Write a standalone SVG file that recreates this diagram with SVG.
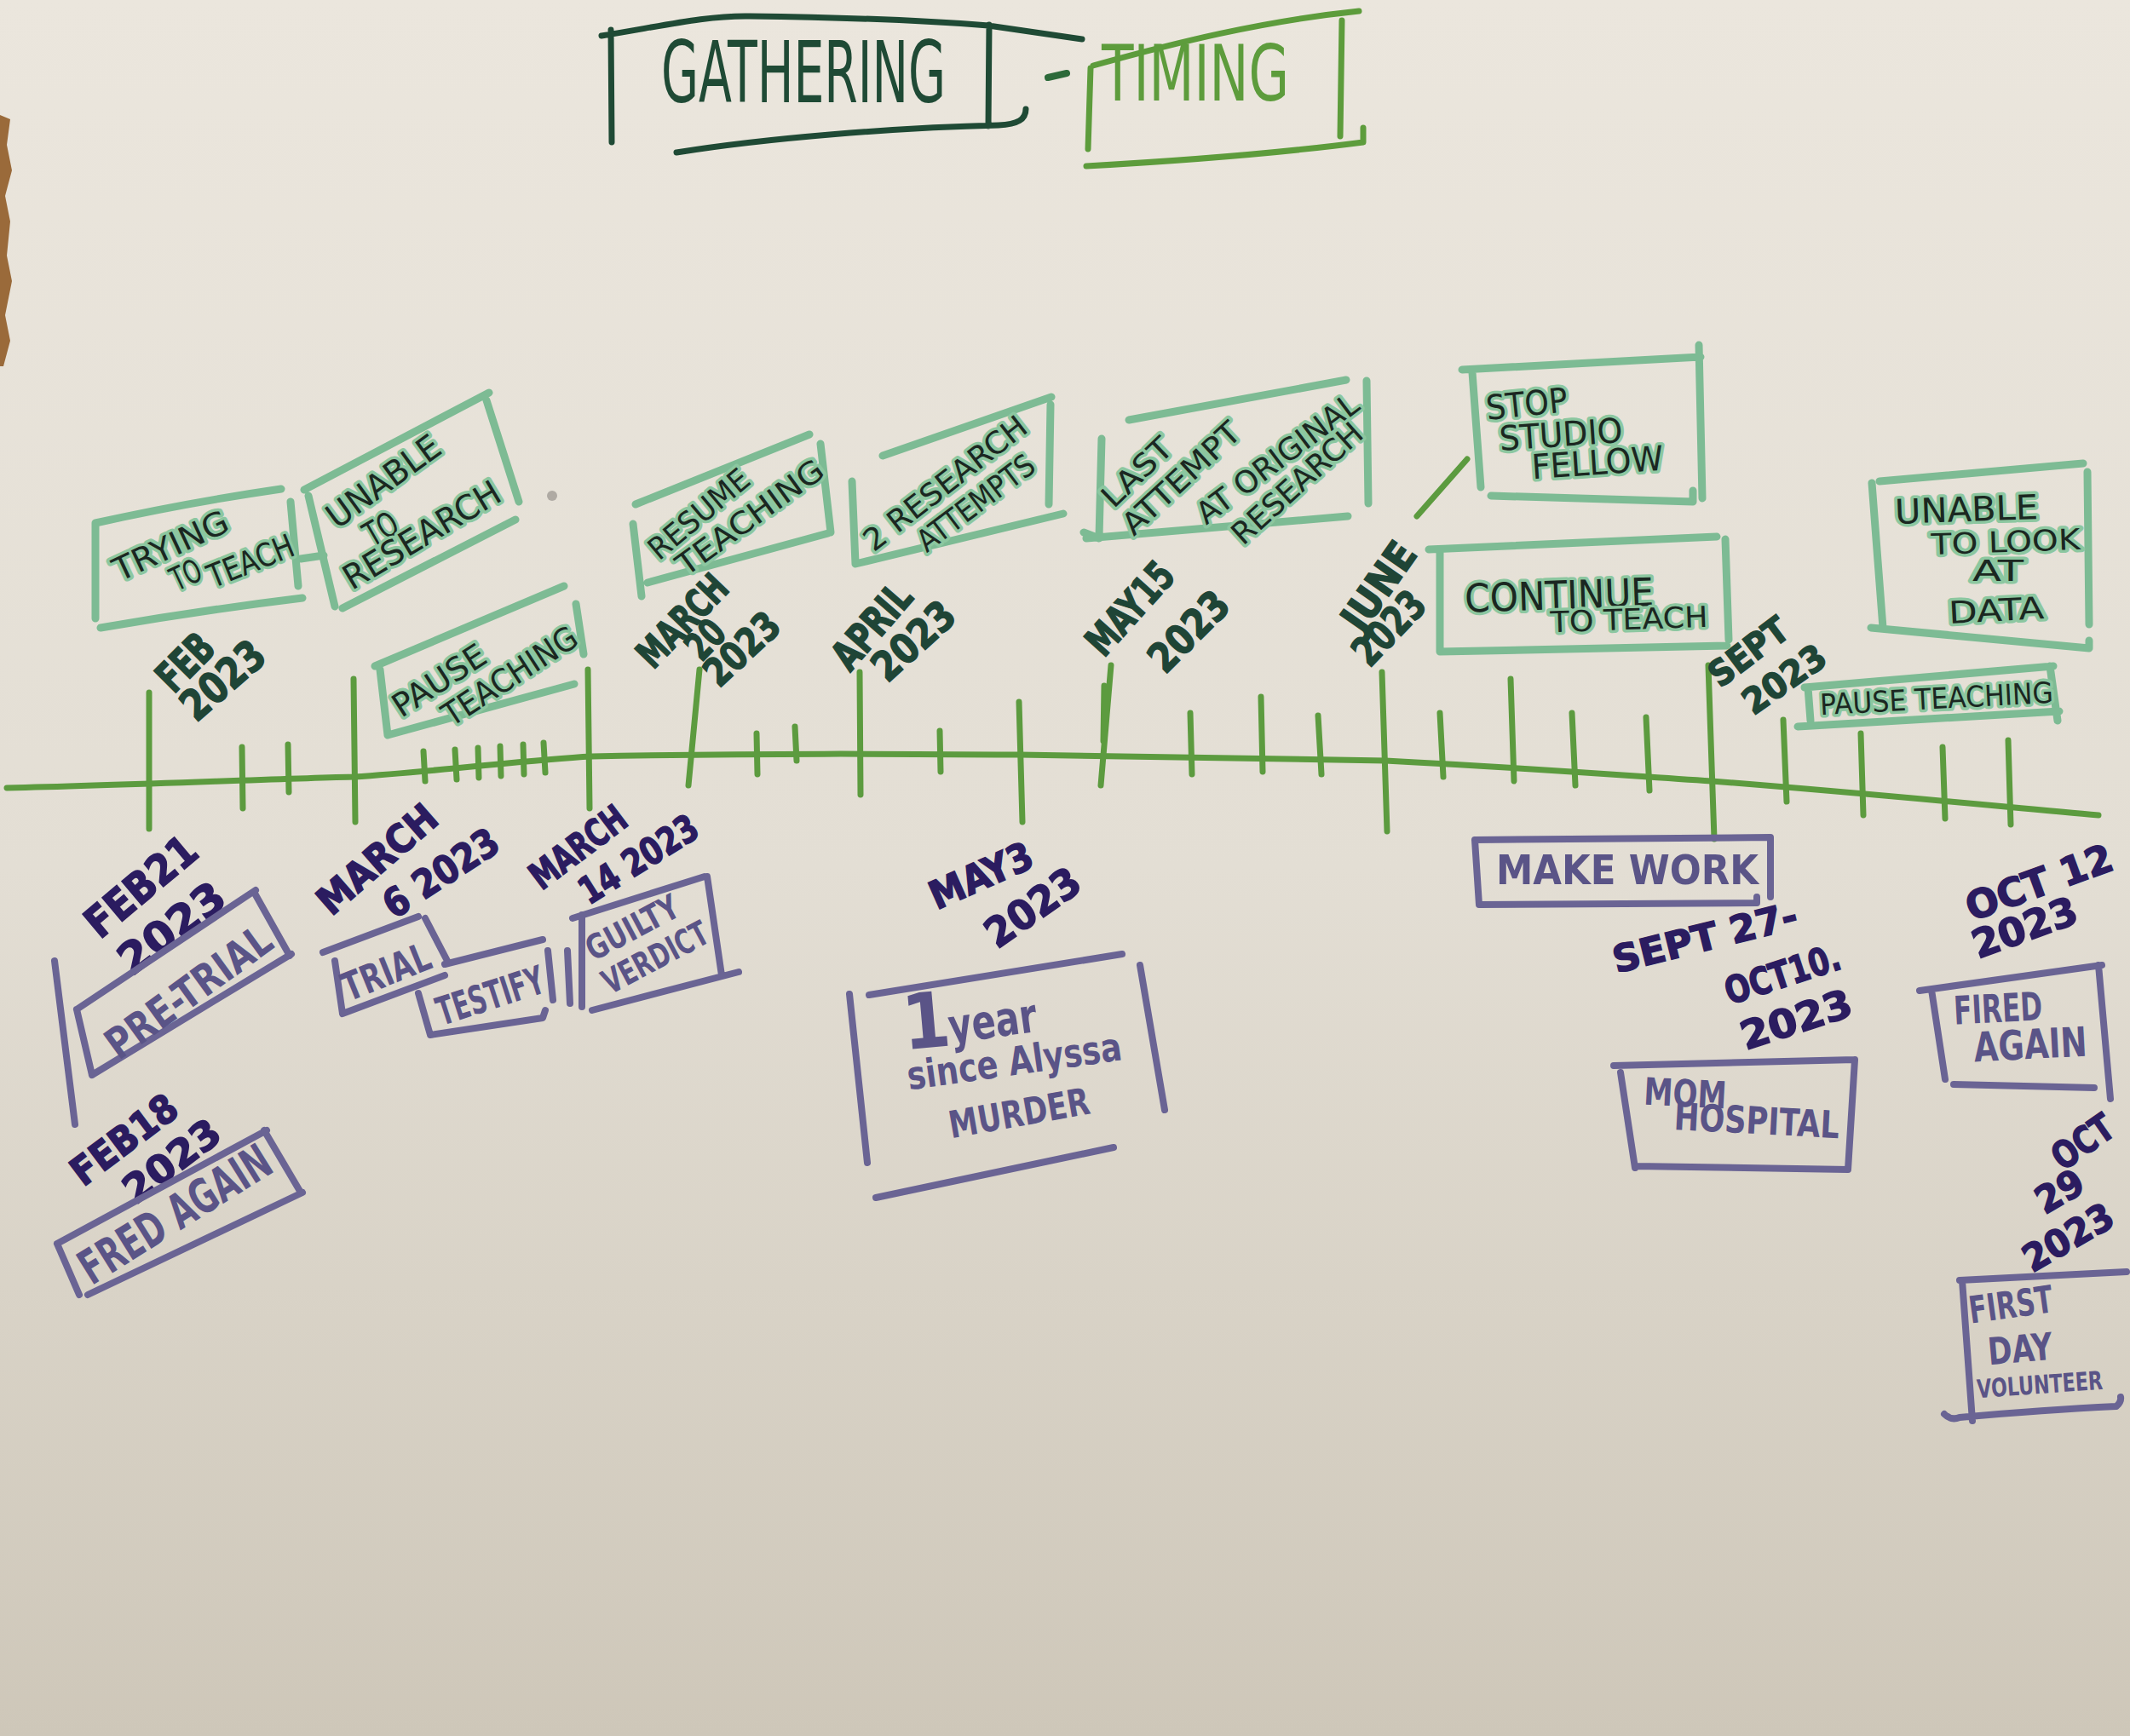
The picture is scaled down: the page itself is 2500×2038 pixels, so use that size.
<svg xmlns="http://www.w3.org/2000/svg" width="2500" height="2038" viewBox="0 0 2500 2038">
<defs>
<linearGradient id="paper" x1="0" y1="0" x2="0" y2="1">
<stop offset="0" stop-color="#ebe6dd"/>
<stop offset="0.5" stop-color="#e3ded4"/>
<stop offset="1" stop-color="#cec7b9"/>
</linearGradient>
<style>
text{font-family:"DejaVu Sans Condensed","DejaVu Sans","Liberation Sans",sans-serif;text-anchor:middle}
.ink{fill:none;stroke-linecap:round;stroke-linejoin:round}
.mint{stroke:#7dbb94;stroke-width:9}
.tl{stroke:#5c9b3f;stroke-width:7}
.pb{stroke:#6a6494;stroke-width:8}
.gd{fill:#1f4536;font-weight:bold;stroke:#1f4536;stroke-width:1.5}
.pd{fill:#2b1c60;font-weight:bold;stroke:#2b1c60;stroke-width:1.5}
.mt{fill:#1b2721;stroke:#8cc7a0;stroke-width:7;paint-order:stroke;stroke-linejoin:round}
.bt{fill:#5a5487;font-weight:bold}
</style>
</defs>
<rect width="2500" height="2038" fill="url(#paper)"/>
<polygon points="0,135 12,140 8,170 14,200 6,230 12,260 8,300 14,330 6,370 12,400 4,430 0,430" fill="#9a6a3a"/>
<circle cx="648" cy="582" r="6" fill="#8a8580" opacity="0.6"/>

<g id="title-gathering">
<path class="ink" stroke="#1f4a35" stroke-width="7" d="M706 42 C780 30 830 18 880 19 C960 20 1060 22 1160 30 L1270 46 M717 35 L718 167 M1161 29 L1160 148 M794 179 C900 162 1050 150 1172 147 C1195 146 1204 140 1204 128"/>
<text x="943" y="120" font-size="100" fill="#1f4a35" textLength="334" lengthAdjust="spacingAndGlyphs">GATHERING</text>
<path class="ink" stroke="#2d6a3a" stroke-width="8" d="M1230 91 L1252 86"/>
</g>
<g id="title-timing">
<path class="ink" stroke="#5d9c3c" stroke-width="7" d="M1283 77 C1380 50 1480 25 1595 13 M1280 80 L1277 175 M1575 24 L1573 160 M1275 195 C1400 188 1500 180 1600 167 L1600 150"/>
<text x="1403" y="118" font-size="90" fill="#5d9c3c" textLength="220" lengthAdjust="spacingAndGlyphs">TIMING</text>
</g>

<g id="connectors">
<path class="ink tl" d="M8 925 C150 922 300 915 415 912 C520 905 620 892 694 888 C900 884 1050 885 1196 886 C1400 888 1520 890 1626 893 C1800 902 1900 910 2009 917 C2200 932 2350 947 2463 957"/>
<path class="ink tl" d="M175 813 L175 973 M284 877 L285 949 M338 874 L339 930 M415 797 L417 965 M497 882 L499 917 M534 880 L536 915 M561 878 L562 913 M587 876 L588 911 M614 874 L615 909 M638 872 L640 907 M690 786 L692 949 M821 786 L808 922 M888 861 L889 909 M933 853 L935 893 M1009 789 L1010 933 M1103 858 L1104 906 M1196 824 L1200 965 M1304 781 L1292 922 M1296 805 L1295 870 M1397 837 L1399 909 M1480 818 L1482 906 M1547 840 L1551 909 M1622 789 L1628 976 M1690 837 L1694 912 M1773 797 L1777 917 M1845 837 L1849 922 M1932 842 L1936 928 M2005 781 L2012 985 M2093 845 L2097 941 M2184 861 L2187 957 M2280 877 L2283 961 M2357 869 L2360 968"/>
<path class="ink mint" d="M353 656 L380 652"/>
<path class="ink tl" d="M1663 606 L1722 539"/>
<path class="ink pb" d="M64 1128 L88 1320"/>
</g>

<g id="date-feb2023">
<text class="gd" x="217" y="795" font-size="50" transform="rotate(-45 217 777)" textLength="73" lengthAdjust="spacingAndGlyphs">FEB</text>
<text class="gd" x="261" y="816" font-size="50" transform="rotate(-41 261 798)" textLength="113" lengthAdjust="spacingAndGlyphs">2023</text>
</g>
<g id="date-march20">
<text class="gd" x="800" y="745" font-size="46" transform="rotate(-46 800 728)" textLength="131" lengthAdjust="spacingAndGlyphs">MARCH</text>
<text class="gd" x="827" y="767" font-size="46" transform="rotate(-46 827 750)" textLength="45" lengthAdjust="spacingAndGlyphs">20</text>
<text class="gd" x="870" y="778" font-size="46" transform="rotate(-43 870 761)" textLength="103" lengthAdjust="spacingAndGlyphs">2023</text>
</g>
<g id="date-april1">
<text class="gd" x="1023" y="752" font-size="48" transform="rotate(-49 1023 735)" textLength="116" lengthAdjust="spacingAndGlyphs">APRIL</text>
<text class="gd" x="1072" y="769" font-size="48" transform="rotate(-42 1072 752)" textLength="113" lengthAdjust="spacingAndGlyphs">2023</text>
</g>
<g id="date-may15">
<text class="gd" x="1326" y="731" font-size="48" transform="rotate(-48 1326 714)" textLength="128" lengthAdjust="spacingAndGlyphs">MAY15</text>
<text class="gd" x="1395" y="758" font-size="48" transform="rotate(-45 1395 741)" textLength="112" lengthAdjust="spacingAndGlyphs">2023</text>
</g>
<g id="date-june">
<text class="gd" x="1618" y="705" font-size="48" transform="rotate(-55 1618 688)" textLength="115" lengthAdjust="spacingAndGlyphs">JUNE</text>
<text class="gd" x="1630" y="754" font-size="48" transform="rotate(-46 1630 737)" textLength="100" lengthAdjust="spacingAndGlyphs">2023</text>
</g>
<g id="date-sept">
<text class="gd" x="2052" y="780" font-size="42" transform="rotate(-37 2052 765)" textLength="105" lengthAdjust="spacingAndGlyphs">SEPT</text>
<text class="gd" x="2094" y="812" font-size="42" transform="rotate(-35 2094 797)" textLength="109" lengthAdjust="spacingAndGlyphs">2023</text>
</g>

<g id="trying-to-teach">
<path class="ink mint" d="M112 614 L112 726 M112 614 Q220 590 330 574 M341 589 L350 688 M118 737 Q240 716 355 702"/>
<text class="mt" x="200" y="654" font-size="38" transform="rotate(-25 200 640)" textLength="145" lengthAdjust="spacingAndGlyphs">TRYING</text>
<text class="mt" x="218" y="688" font-size="38" transform="rotate(-25 218 674)" textLength="36" lengthAdjust="spacingAndGlyphs">TO</text>
<text class="mt" x="294" y="672" font-size="38" transform="rotate(-22 294 658)" textLength="106" lengthAdjust="spacingAndGlyphs">TEACH</text>
</g>
<g id="unable-to-research">
<path class="ink mint" d="M357 575 L574 461 M362 582 L393 712 M402 714 L605 610 M571 470 L609 589"/>
<text class="mt" x="450" y="579" font-size="40" transform="rotate(-36 450 565)" textLength="155" lengthAdjust="spacingAndGlyphs">UNABLE</text>
<text class="mt" x="447" y="635" font-size="40" transform="rotate(-30 447 621)" textLength="40" lengthAdjust="spacingAndGlyphs">TO</text>
<text class="mt" x="495" y="642" font-size="40" transform="rotate(-31 495 628)" textLength="208" lengthAdjust="spacingAndGlyphs">RESEARCH</text>
</g>
<g id="pause-teaching-1">
<path class="ink mint" d="M440 782 L662 688 M446 786 L455 863 M455 863 L674 803 M676 709 L685 768"/>
<text class="mt" x="515" y="812" font-size="38" transform="rotate(-33 515 798)" textLength="123" lengthAdjust="spacingAndGlyphs">PAUSE</text>
<text class="mt" x="598" y="807" font-size="38" transform="rotate(-33 598 793)" textLength="181" lengthAdjust="spacingAndGlyphs">TEACHING</text>
</g>
<g id="resume-teaching">
<path class="ink mint" d="M746 592 L950 510 M743 615 L753 700 M760 684 L972 626 M963 521 L975 625"/>
<text class="mt" x="820" y="616" font-size="36" transform="rotate(-40 820 603)" textLength="143" lengthAdjust="spacingAndGlyphs">RESUME</text>
<text class="mt" x="880" y="620" font-size="36" transform="rotate(-36 880 607)" textLength="204" lengthAdjust="spacingAndGlyphs">TEACHING</text>
</g>
<g id="research-attempts">
<path class="ink mint" d="M1036 535 L1234 466 M1000 565 L1004 662 M1004 662 L1248 603 M1233 475 L1231 592"/>
<text class="mt" x="1109" y="580" font-size="36" transform="rotate(-38 1109 567)" textLength="232" lengthAdjust="spacingAndGlyphs">2 RESEARCH</text>
<text class="mt" x="1145" y="603" font-size="36" transform="rotate(-37 1145 590)" textLength="163" lengthAdjust="spacingAndGlyphs">ATTEMPTS</text>
</g>
<g id="last-attempt">
<path class="ink mint" d="M1325 493 L1580 446 M1293 515 L1290 630 M1272 625 L1290 632 M1275 632 L1582 606 M1604 447 L1606 591"/>
<text class="mt" x="1334" y="567" font-size="36" transform="rotate(-44 1334 554)" textLength="100" lengthAdjust="spacingAndGlyphs">LAST</text>
<text class="mt" x="1386" y="574" font-size="36" transform="rotate(-43 1386 561)" textLength="175" lengthAdjust="spacingAndGlyphs">ATTEMPT</text>
<text class="mt" x="1499" y="551" font-size="36" transform="rotate(-37 1499 538)" textLength="228" lengthAdjust="spacingAndGlyphs">AT ORIGINAL</text>
<text class="mt" x="1522" y="580" font-size="36" transform="rotate(-42 1522 567)" textLength="193" lengthAdjust="spacingAndGlyphs">RESEARCH</text>
</g>
<g id="stop-studio-fellow">
<path class="ink mint" d="M1716 434 L1996 419 M1728 437 L1738 572 M1750 582 L1987 589 L1987 576 M1994 405 L1998 585"/>
<text class="mt" x="1792" y="488" font-size="40" transform="rotate(-6 1792 474)" textLength="96" lengthAdjust="spacingAndGlyphs">STOP</text>
<text class="mt" x="1832" y="524" font-size="40" transform="rotate(-4 1832 510)" textLength="145" lengthAdjust="spacingAndGlyphs">STUDIO</text>
<text class="mt" x="1875" y="557" font-size="40" transform="rotate(-4 1875 543)" textLength="155" lengthAdjust="spacingAndGlyphs">FELLOW</text>
</g>
<g id="continue-to-teach">
<path class="ink mint" d="M1677 645 L2015 630 M1690 649 L1690 765 M1690 765 L2027 758 M2025 633 L2029 751"/>
<text class="mt" x="1830" y="715" font-size="46" transform="rotate(-2 1830 698)" textLength="222" lengthAdjust="spacingAndGlyphs">CONTINUE</text>
<text class="mt" x="1912" y="739" font-size="34" transform="rotate(-2 1912 727)" textLength="185" lengthAdjust="spacingAndGlyphs">TO TEACH</text>
</g>
<g id="unable-to-look-at-data">
<path class="ink mint" d="M2206 565 L2445 544 M2197 567 L2210 737 M2196 737 L2452 761 L2452 752 M2450 554 L2452 733"/>
<text class="mt" x="2308" y="612" font-size="40" transform="rotate(-2 2308 598)" textLength="168" lengthAdjust="spacingAndGlyphs">UNABLE</text>
<text class="mt" x="2354" y="648" font-size="34" transform="rotate(-2 2354 636)" textLength="175" lengthAdjust="spacingAndGlyphs">TO LOOK</text>
<text class="mt" x="2345" y="682" font-size="34" textLength="60" lengthAdjust="spacingAndGlyphs">AT</text>
<text class="mt" x="2343" y="729" font-size="36" transform="rotate(-3 2343 716)" textLength="112" lengthAdjust="spacingAndGlyphs">DATA</text>
</g>
<g id="pause-teaching-2">
<path class="ink mint" d="M2118 807 L2410 782 M2122 807 L2125 846 M2110 853 L2417 835 M2406 782 L2415 846"/>
<text class="mt" x="2273" y="832" font-size="34" transform="rotate(-3 2273 820)" textLength="274" lengthAdjust="spacingAndGlyphs">PAUSE TEACHING</text>
</g>

<g id="pre-trial">
<text class="pd" x="165" y="1058" font-size="50" transform="rotate(-40 165 1040)" textLength="155" lengthAdjust="spacingAndGlyphs">FEB21</text>
<text class="pd" x="201" y="1107" font-size="50" transform="rotate(-37 201 1089)" textLength="143" lengthAdjust="spacingAndGlyphs">2023</text>
<path class="ink pb" d="M90 1185 L300 1045 M90 1185 L108 1262 M108 1262 L342 1120 M298 1047 L340 1122"/>
<text class="bt" x="221" y="1182" font-size="50" transform="rotate(-36 221 1164)" textLength="228" lengthAdjust="spacingAndGlyphs">PRE-TRIAL</text>
</g>
<g id="fred-again-feb18">
<text class="pd" x="145" y="1354" font-size="46" transform="rotate(-37 145 1337)" textLength="144" lengthAdjust="spacingAndGlyphs">FEB18</text>
<text class="pd" x="201" y="1379" font-size="46" transform="rotate(-37 201 1362)" textLength="130" lengthAdjust="spacingAndGlyphs">2023</text>
<path class="ink pb" d="M67 1460 L313 1327 M67 1460 L93 1520 M103 1520 L355 1400 M310 1327 L353 1400"/>
<text class="bt" x="205" y="1445" font-size="56" transform="rotate(-32 205 1425)" textLength="255" lengthAdjust="spacingAndGlyphs">FRED AGAIN</text>
</g>
<g id="trial">
<text class="pd" x="442" y="1025" font-size="46" transform="rotate(-41 442 1008)" textLength="170" lengthAdjust="spacingAndGlyphs">MARCH</text>
<text class="pd" x="517" y="1041" font-size="46" transform="rotate(-33 517 1024)" textLength="152" lengthAdjust="spacingAndGlyphs">6 2023</text>
<path class="ink pb" d="M379 1118 L491 1076 M393 1128 L402 1190 M402 1190 L522 1145 M499 1078 L525 1128"/>
<text class="bt" x="453" y="1157" font-size="46" transform="rotate(-22 453 1140)" textLength="108" lengthAdjust="spacingAndGlyphs">TRIAL</text>
</g>
<g id="testify">
<path class="ink pb" d="M522 1132 L637 1103 M491 1166 L505 1215 M505 1215 L637 1195 L640 1186 M643 1116 L649 1174 M666 1116 L669 1178"/>
<text class="bt" x="575" y="1185" font-size="46" transform="rotate(-18 575 1168)" textLength="130" lengthAdjust="spacingAndGlyphs">TESTIFY</text>
</g>
<g id="guilty-verdict">
<text class="pd" x="678" y="1010" font-size="44" transform="rotate(-37 678 994)" textLength="130" lengthAdjust="spacingAndGlyphs">MARCH</text>
<text class="pd" x="749" y="1024" font-size="44" transform="rotate(-32 749 1008)" textLength="156" lengthAdjust="spacingAndGlyphs">14 2023</text>
<path class="ink pb" d="M672 1078 L827 1029 M683 1074 L683 1182 M695 1186 L867 1141 M830 1029 L847 1145"/>
<text class="bt" x="742" y="1103" font-size="40" transform="rotate(-28 742 1089)" textLength="118" lengthAdjust="spacingAndGlyphs">GUILTY</text>
<text class="bt" x="769" y="1138" font-size="40" transform="rotate(-28 769 1124)" textLength="135" lengthAdjust="spacingAndGlyphs">VERDICT</text>
</g>
<g id="one-year">
<text class="pd" x="1151" y="1044" font-size="46" transform="rotate(-24 1151 1027)" textLength="128" lengthAdjust="spacingAndGlyphs">MAY3</text>
<text class="pd" x="1212" y="1082" font-size="48" transform="rotate(-35 1212 1065)" textLength="125" lengthAdjust="spacingAndGlyphs">2023</text>
<path class="ink pb" d="M1020 1168 L1317 1120 M997 1167 L1018 1365 M1338 1133 L1367 1303 M1028 1406 L1307 1347"/>
<text class="bt" x="1087" y="1230" font-size="90" transform="rotate(-5 1087 1198)">1</text>
<text class="bt" x="1165" y="1218" font-size="56" transform="rotate(-8 1165 1200)" textLength="104" lengthAdjust="spacingAndGlyphs">year</text>
<text class="bt" x="1190" y="1262" font-size="46" transform="rotate(-8 1190 1243)" textLength="254" lengthAdjust="spacingAndGlyphs">since Alyssa</text>
<text class="bt" x="1196" y="1322" font-size="44" transform="rotate(-10 1196 1306)" textLength="167" lengthAdjust="spacingAndGlyphs">MURDER</text>
</g>
<g id="make-work">
<path class="ink pb" d="M1731 986 L2078 983 M1731 986 L1736 1062 M1736 1062 L2062 1060 L2062 1053 M2078 983 L2078 1053"/>
<text class="bt" x="1910" y="1038" font-size="48" textLength="308" lengthAdjust="spacingAndGlyphs">MAKE WORK</text>
</g>
<g id="mom-hospital">
<text class="pd" x="2001" y="1116" font-size="44" transform="rotate(-14 2001 1100)" textLength="222" lengthAdjust="spacingAndGlyphs">SEPT 27-</text>
<text class="pd" x="2092" y="1159" font-size="44" transform="rotate(-18 2092 1143)" textLength="140" lengthAdjust="spacingAndGlyphs">OCT10.</text>
<text class="pd" x="2108" y="1213" font-size="46" transform="rotate(-18 2108 1196)" textLength="135" lengthAdjust="spacingAndGlyphs">2023</text>
<path class="ink pb" d="M1894 1251 L2177 1244 M1902 1259 L1919 1371 M1919 1369 L2169 1373 M2177 1244 L2169 1373"/>
<text class="bt" x="1978" y="1299" font-size="44" transform="rotate(3 1978 1283)" textLength="97" lengthAdjust="spacingAndGlyphs">MOM</text>
<text class="bt" x="2062" y="1331" font-size="44" transform="rotate(3 2062 1315)" textLength="194" lengthAdjust="spacingAndGlyphs">HOSPITAL</text>
</g>
<g id="fired-again-oct12">
<text class="pd" x="2393" y="1052" font-size="46" transform="rotate(-20 2393 1035)" textLength="180" lengthAdjust="spacingAndGlyphs">OCT 12</text>
<text class="pd" x="2376" y="1105" font-size="46" transform="rotate(-20 2376 1088)" textLength="128" lengthAdjust="spacingAndGlyphs">2023</text>
<path class="ink pb" d="M2253 1163 L2467 1133 M2267 1162 L2283 1267 M2293 1273 L2458 1277 M2463 1133 L2477 1290"/>
<text class="bt" x="2345" y="1200" font-size="46" transform="rotate(-3 2345 1183)" textLength="104" lengthAdjust="spacingAndGlyphs">FIRED</text>
<text class="bt" x="2383" y="1243" font-size="48" transform="rotate(-3 2383 1226)" textLength="133" lengthAdjust="spacingAndGlyphs">AGAIN</text>
</g>
<g id="first-day-volunteer">
<text class="pd" x="2444" y="1356" font-size="44" transform="rotate(-35 2444 1340)" textLength="78" lengthAdjust="spacingAndGlyphs">OCT</text>
<text class="pd" x="2417" y="1414" font-size="44" transform="rotate(-30 2417 1398)" textLength="58" lengthAdjust="spacingAndGlyphs">29</text>
<text class="pd" x="2427" y="1468" font-size="44" transform="rotate(-30 2427 1452)" textLength="115" lengthAdjust="spacingAndGlyphs">2023</text>
<path class="ink pb" d="M2300 1503 L2496 1493 M2303 1503 L2315 1668 M2282 1660 Q2290 1668 2300 1664 Q2400 1655 2484 1651 Q2490 1646 2489 1640"/>
<text class="bt" x="2360" y="1547" font-size="44" transform="rotate(-8 2360 1531)" textLength="99" lengthAdjust="spacingAndGlyphs">FIRST</text>
<text class="bt" x="2371" y="1599" font-size="44" transform="rotate(-5 2371 1583)" textLength="76" lengthAdjust="spacingAndGlyphs">DAY</text>
<text class="bt" x="2394" y="1636" font-size="30" transform="rotate(-4 2394 1625)" textLength="148" lengthAdjust="spacingAndGlyphs">VOLUNTEER</text>
</g>
</svg>
